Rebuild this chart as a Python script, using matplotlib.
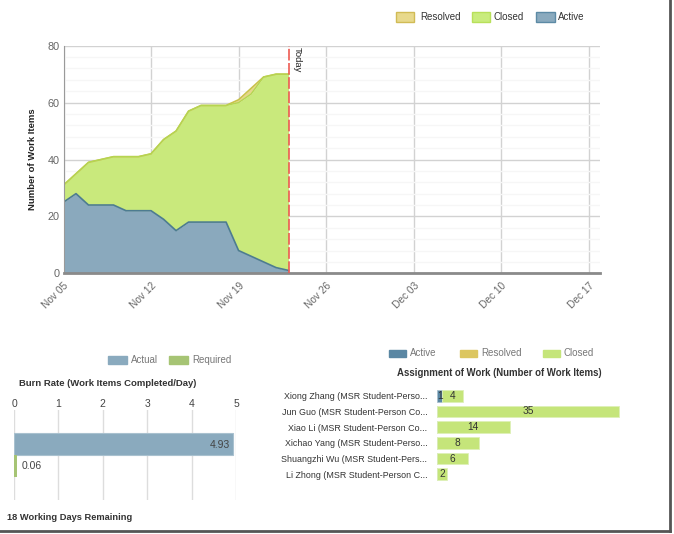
import numpy as np
import matplotlib
matplotlib.use("Agg")
import matplotlib.pyplot as plt
from matplotlib.patches import Rectangle
from matplotlib.ticker import MultipleLocator

plt.rcParams["font.family"] = ["Liberation Sans", "DejaVu Sans"]

# ---- data ----
# daily counts from Nov 05 to Nov 23 (today)
active = [25, 28, 24, 24, 24, 22, 22, 22, 19, 15, 18, 18, 18, 18, 8, 6, 4, 2, 1]
closed = [6, 7, 15, 16, 17, 19, 19, 20, 28, 35, 39, 41, 41, 41, 52, 57, 65, 68, 69]
resolved = [0, 0, 0, 0, 0, 0, 0, 0, 0, 0, 0, 0, 0, 0, 1, 2, 0, 0, 0]
week_labels = ["Nov 05", "Nov 12", "Nov 19", "Nov 26", "Dec 03", "Dec 10", "Dec 17"]
today_day = 18

burn_labels = ["Actual", "Required"]
burn_values = [4.93, 0.06]
days_remaining = 18

people = ["Xiong Zhang (MSR Student-Perso...", "Jun Guo (MSR Student-Person Co...",
          "Xiao Li (MSR Student-Person Co...", "Xichao Yang (MSR Student-Perso...",
          "Shuangzhi Wu (MSR Student-Pers...", "Li Zhong (MSR Student-Person C..."]
people_active = [1, 0, 0, 0, 0, 0]
people_resolved = [0, 0, 0, 0, 0, 0]
people_closed = [4, 35, 14, 8, 6, 2]

W, H = 674, 534
fig = plt.figure(figsize=(W / 100, H / 100), dpi=100)


def px_axes(l, t, r, b):
    return fig.add_axes([l / W, 1 - b / H, (r - l) / W, (b - t) / H])


def legend_item(x, y, w, h, face, edge, label, color, gap=4, size=7):
    # x, y: left / vertical centre of the swatch in pixels
    fig.add_artist(Rectangle((x / W, 1 - (y + h / 2) / H), w / W, h / H, facecolor=face,
                             edgecolor=edge, lw=1, transform=fig.transFigure))
    fig.text((x + w + gap) / W, 1 - y / H, label, fontsize=size, color=color,
             ha="left", va="center")


tick_col = "#666666"
title_col = "#333333"

# ---- cumulative flow chart ----
ax = px_axes(63.5, 45.7, 600, 273.3)
days = np.arange(len(active))
a = np.array(active)
c = a + np.array(closed)
r = c + np.array(resolved)
ax.fill_between(days, c, r, color="#e6d68c", lw=0)
ax.plot(days, r, color="#c9c24a", lw=1.2)
ax.fill_between(days, a, c, color="#c9e97c", lw=0)
ax.plot(days, c, color="#b4d651", lw=1)
ax.fill_between(days, 0, a, color="#8aa9bd", lw=0)
ax.plot(days, a, color="#4d7c90", lw=1.2)

ax.set_xlim(0, 42.9)
ax.set_ylim(0, 80)
ax.set_xticks(np.arange(len(week_labels)) * 7)
ax.set_xticklabels(week_labels, rotation=45, ha="right", va="top",
                   rotation_mode="anchor", color=tick_col, fontsize=7.3)
ax.yaxis.set_major_locator(MultipleLocator(20))
ax.yaxis.set_minor_locator(MultipleLocator(4))
ax.tick_params(axis="y", which="both", length=0, labelcolor=tick_col, labelsize=7.8, pad=3)
ax.tick_params(axis="x", length=0, pad=5)
ax.grid(which="major", color="#d2d2d2", lw=1)
ax.grid(which="minor", axis="y", color="#f6f6f6", lw=1)
ax.set_axisbelow(True)
for s in ["top", "right"]:
    ax.spines[s].set_visible(False)
ax.spines["left"].set_color("#9a9a9a")
ax.spines["bottom"].set_color("#8a8a8a")
ax.spines["bottom"].set_linewidth(2)
ax.set_ylabel("Number of Work Items", fontsize=6.8, fontweight="bold", color="#222222",
              labelpad=7)

ax.axvline(today_day, color="#ee5a52", lw=1.2, dashes=(7, 1.5), zorder=5)
ax.text(today_day + 0.35, 79.5, "Today", rotation=270, ha="left", va="top",
        fontsize=6.8, color="#222222")

legend_item(396, 17, 18, 9, "#e8d98c", "#d1bb55", "Resolved", "#333333", gap=6)
legend_item(472, 17, 18, 9, "#c9ec7d", "#b8e05a", "Closed", "#333333", gap=4)
legend_item(536, 17, 19, 9, "#8aaabe", "#5c8aa5", "Active", "#333333", gap=3)

# ---- burn rate ----
bx = px_axes(14, 410, 236, 500)
bx.barh([0], [burn_values[0]], height=1.0, color="#8aaabe", edgecolor="#a9c1cf", lw=0.8)
bx.barh([1], [burn_values[1]], height=1.0, color="#a6c474", lw=0)
bx.set_xlim(0, 5)
bx.set_ylim(2.545, -1.545)
bx.xaxis.tick_top()
bx.set_xticks(range(6))
bx.tick_params(axis="x", length=0, labelcolor="#444444", labelsize=7.5, pad=1)
bx.set_yticks([])
bx.grid(axis="x", color="#dddddd", lw=1)
bx.set_axisbelow(True)
for s in bx.spines.values():
    s.set_visible(False)
bx.text(burn_values[0] - 0.07, 0.05, f"{burn_values[0]:.2f}", ha="right", va="center",
        fontsize=7.5, color="#444444")
bx.text(burn_values[1] + 0.12, 1.0, f"{burn_values[1]:.2f}", ha="left", va="center",
        fontsize=7.5, color="#444444")
fig.text(19 / W, 1 - 383 / H, "Burn Rate (Work Items Completed/Day)", fontsize=6.8,
         fontweight="bold", color=title_col, va="center")
fig.text(7 / W, 1 - 517 / H, f"{days_remaining} Working Days Remaining", fontsize=6.7,
         fontweight="bold", color=title_col, va="center")
legend_item(108, 360, 19, 8, "#8aaabe", "#8aaabe", burn_labels[0], "#777777", gap=4)
legend_item(169, 360, 19, 8, "#a6c474", "#a6c474", burn_labels[1], "#777777", gap=4)

# ---- assignment of work ----
wx = px_axes(437, 388, 624, 482)
ypos = np.arange(len(people))
pa = np.array(people_active)
pr = np.array(people_resolved)
pc = np.array(people_closed)
wx.barh(ypos, pa, height=0.75, color="#5a87a3", edgecolor="#a8bfcd", lw=0.6)
wx.barh(ypos, pr, left=pa, height=0.75, color="#dcc660", lw=0)
wx.barh(ypos, pc, left=pa + pr, height=0.75, color="#c5e57a", edgecolor="#def0b8", lw=0.6)
for i in range(len(people)):
    if pa[i] > 0:
        wx.text(pa[i] / 2, i, str(pa[i]), ha="center", va="center", fontsize=7.3,
                color="#333333")
    if pc[i] > 0:
        wx.text(pa[i] + pr[i] + pc[i] / 2, i, str(pc[i]), ha="center", va="center",
                fontsize=7.3, color="#333333")
wx.set_xlim(0, 36)
wx.set_ylim(5.5, -0.5)
wx.set_xticks([])
wx.set_yticks(ypos)
wx.set_yticklabels(people, fontsize=6.4, color="#333333")
wx.tick_params(axis="y", length=0, pad=7)
for s in wx.spines.values():
    s.set_visible(False)
fig.text(499 / W, 1 - 373 / H, "Assignment of Work (Number of Work Items)", fontsize=6.9,
         fontweight="bold", color=title_col, ha="center", va="center")
legend_item(389, 353, 17, 7, "#5a87a3", "#5a87a3", "Active", "#777777", gap=4)
legend_item(460, 353, 17, 7, "#dcc660", "#dcc660", "Resolved", "#777777", gap=4)
legend_item(543, 353, 17, 7, "#c5e57a", "#c5e57a", "Closed", "#777777", gap=3)

# screenshot frame (right and bottom shadow)
fig.add_artist(plt.Line2D([669.5 / W, 669.5 / W], [1, 1 - 531 / H], color="#555555", lw=2,
                          transform=fig.transFigure))
fig.add_artist(plt.Line2D([0, 670 / W], [1 - 531 / H, 1 - 531 / H], color="#555555", lw=2,
                          transform=fig.transFigure))

fig.savefig("out.png", dpi=100)
